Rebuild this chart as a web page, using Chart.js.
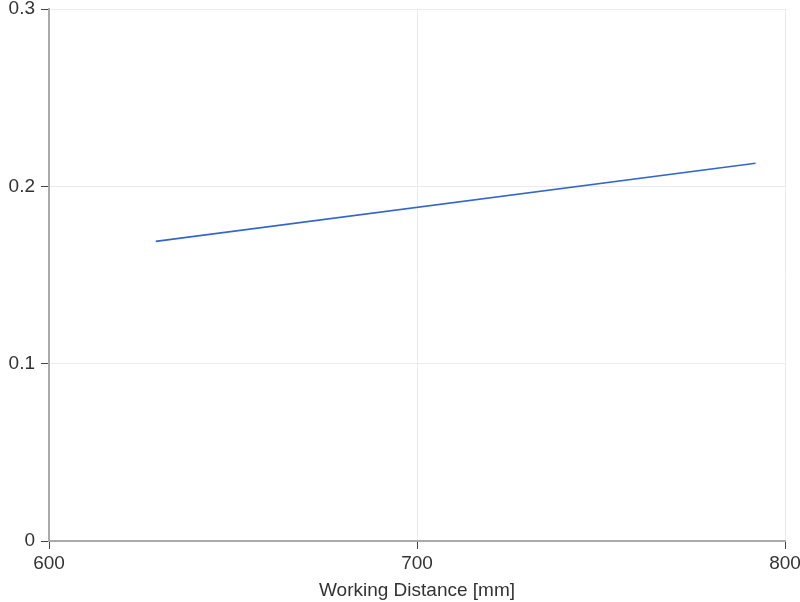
<!DOCTYPE html>
<html><head><meta charset="utf-8">
<script src="https://cdn.jsdelivr.net/npm/chart.js@4"></script>
<style>html,body{margin:0;padding:0;background:#fff}#wrap{width:800px;height:602px}</style>
</head><body><div id="wrap"><canvas id="c"></canvas></div>
<script>
const distances = [629, 792];
const values = [0.169, 0.213];
const xTicks = [600, 700, 800];
const yTicks = [0, 0.1, 0.2, 0.3];
const xTitle = 'Working Distance [mm]';

Chart.defaults.font.family = '"Liberation Sans", Arial, sans-serif';
Chart.defaults.font.size = 19;
Chart.defaults.color = '#333';

new Chart(document.getElementById('c'), {
  type: 'scatter',
  data: {
    datasets: [{
      data: distances.map((d, i) => ({x: d, y: values[i]})),
      showLine: true,
      borderColor: '#3366cc',
      borderWidth: 1.7,
      pointRadius: 0,
      fill: false
    }]
  },
  options: {
    responsive: true,
    maintainAspectRatio: false,
    animation: false,
    layout: {padding: {top: 9, right: 15, left: 0, bottom: 0}},
    plugins: {legend: {display: false}, tooltip: {enabled: false}},
    scales: {
      x: {
        type: 'linear', min: 600, max: 800,
        afterBuildTicks: s => { s.ticks = xTicks.map(v => ({value: v})); },
        afterFit: s => { s.height = 61; s.paddingLeft = 0; s.paddingRight = 0; },
        grid: {color: '#ebebeb', tickColor: '#444', tickLength: 8},
        border: {color: '#aaa', width: 2},
        ticks: {padding: 3, maxRotation: 0},
        title: {display: true, text: xTitle, padding: {top: 2, bottom: 0}}
      },
      y: {
        type: 'linear', min: 0, max: 0.3,
        afterBuildTicks: s => { s.ticks = yTicks.map(v => ({value: v})); },
        afterFit: s => { s.width = 49; s.paddingTop = 0; s.paddingBottom = 0; },
        grid: {color: '#ebebeb', tickColor: '#444', tickLength: 8},
        border: {color: '#aaa', width: 2},
        ticks: {padding: 6, callback: v => String(Math.round(v * 10) / 10)}
      }
    }
  }
});
</script></body></html>
